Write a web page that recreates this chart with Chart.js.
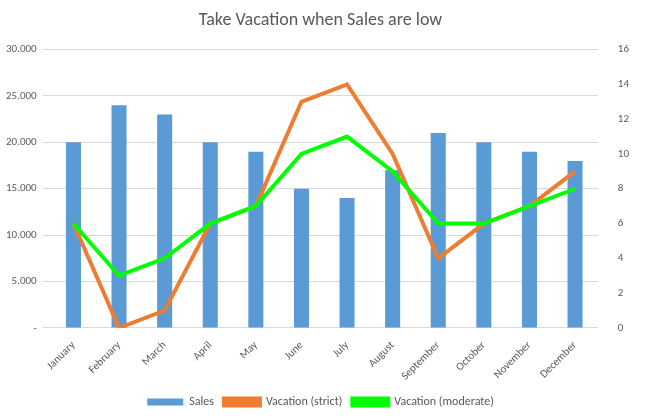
<!DOCTYPE html>
<html><head><meta charset="utf-8">
<script src="https://cdn.jsdelivr.net/npm/chart.js@4/dist/chart.umd.min.js"></script>
<style>html,body{margin:0;padding:0;background:#fff}#w{width:655px;height:420px}</style>
</head><body><div id="w"><canvas id="c"></canvas></div>
<script>
const categories=["January","February","March","April","May","June","July","August","September","October","November","December"];
const sales=[20000,24000,23000,20000,19000,15000,14000,17000,21000,20000,19000,18000];
const vacationStrict=[6,0,1,6,7,13,14,10,4,6,7,9];
const vacationModerate=[6,3,4,6,7,10,11,9,6,6,7,8];
Chart.defaults.font.family="Calibri, Carlito, 'Liberation Sans', sans-serif";
Chart.defaults.color="#595959";
new Chart(document.getElementById('c'),{
 data:{labels:categories,datasets:[
  {type:'line',label:'Vacation (strict)',data:vacationStrict,yAxisID:'y1',borderColor:'#ED7D31',backgroundColor:'#ED7D31',borderWidth:4,pointRadius:0,tension:0,order:1},
  {type:'line',label:'Vacation (moderate)',data:vacationModerate,yAxisID:'y1',borderColor:'#00FF00',backgroundColor:'#00FF00',borderWidth:4,pointRadius:0,tension:0,order:0},
  {type:'bar',label:'Sales',data:sales,yAxisID:'y',backgroundColor:'#5B9BD5',barPercentage:0.33,categoryPercentage:1,order:2}
 ]},
 options:{responsive:true,maintainAspectRatio:false,animation:false,
  layout:{padding:{left:0,right:14,top:2,bottom:2}},
  plugins:{title:{display:true,text:'Take Vacation when Sales are low',font:{size:18,weight:'normal'},color:'#595959',padding:{top:8,bottom:18}},
   legend:{position:'bottom',labels:{boxWidth:36,boxHeight:7,font:{size:12},
    sort:(a,b)=>[2,0,1].indexOf(a.datasetIndex)-[2,0,1].indexOf(b.datasetIndex)}}},
  scales:{
   x:{grid:{display:false},border:{color:'#d9d9d9'},ticks:{maxRotation:45,minRotation:45,font:{size:11}}},
   y:{position:'left',min:0,max:30000,grid:{color:'#d9d9d9'},border:{display:false},
      ticks:{stepSize:5000,font:{size:11},padding:6,callback:v=>v===0?'-':v.toLocaleString('de-DE',{minimumFractionDigits:3}).replace(/,000$/,'')}},
   y1:{position:'right',min:0,max:16,grid:{display:false},border:{display:false},ticks:{stepSize:2,font:{size:11},padding:12}}
  }}
});
</script></body></html>
